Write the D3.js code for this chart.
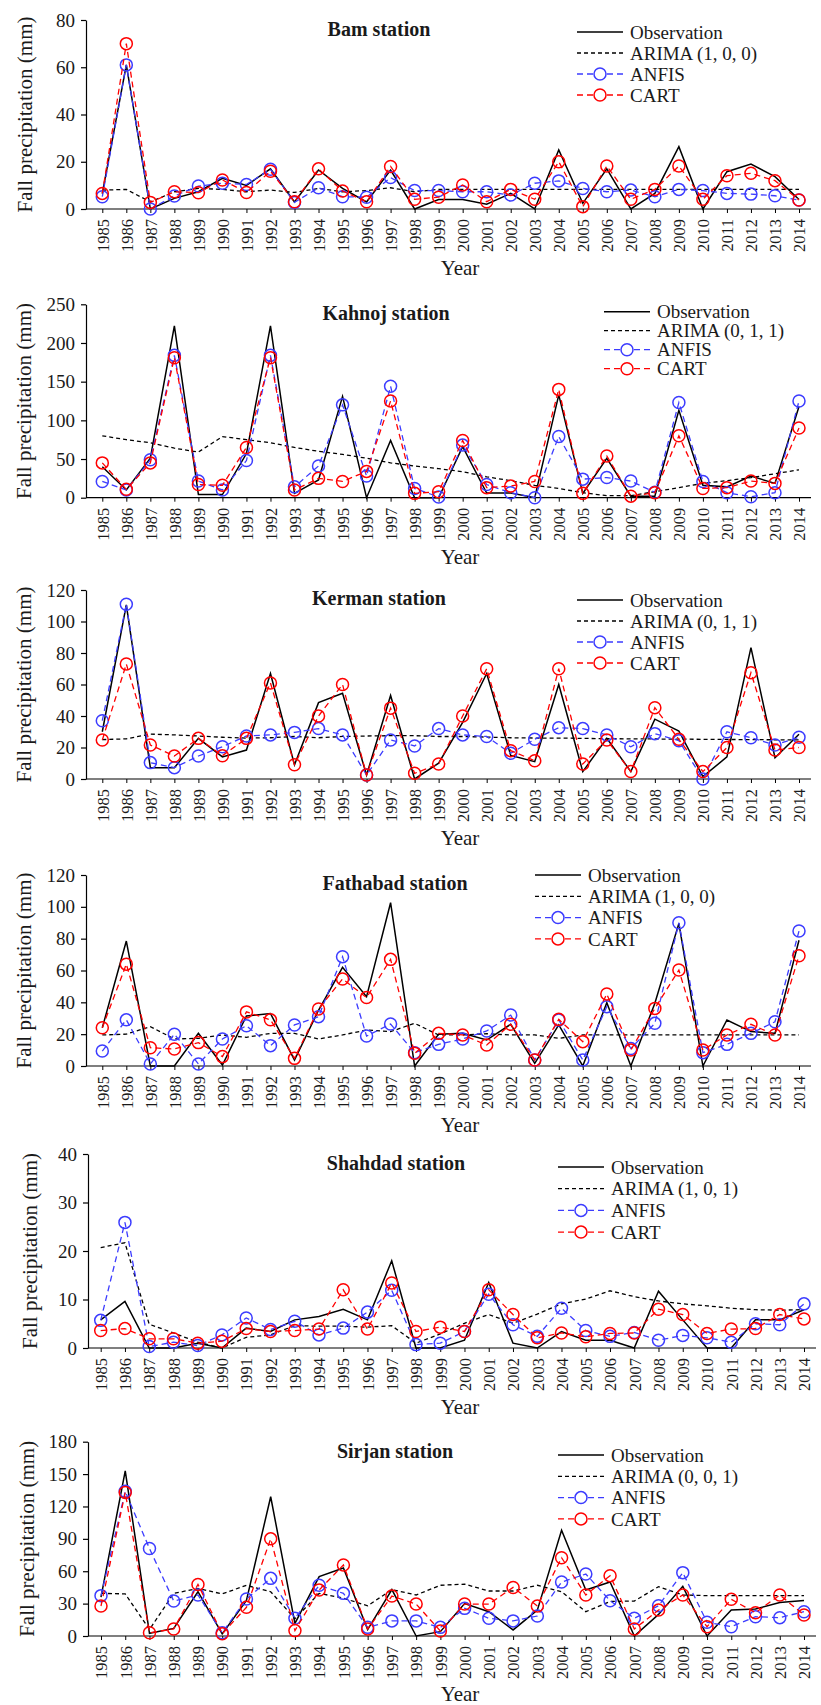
<!DOCTYPE html>
<html>
<head>
<meta charset="utf-8">
<title>Fall precipitation, six stations</title>
<script src="https://d3js.org/d3.v7.min.js"></script>
<style>
  body { margin: 0; background: #fff; }
  svg text { font-family: "Liberation Serif", "Times New Roman", serif; fill: #1a1a1a; }
</style>
</head>
<body>
<svg id="chart" width="821" height="1705"></svg>
<script>
// years on the x axis
const years = d3.range(1985, 2015);

// Bam
const bamObs   = [6.5,61,0,4.5,7.3,13,10,17,3,16.5,8.7,3,16.5,0,4,4,2,6.6,0,25,2.4,17,0,6.6,26.4,0,15.8,19,13.7,4];
const bamArima = [8,8.3,3,7.3,8.7,8.3,7.3,8,7,8.7,7.3,7.8,9,7.3,8.3,8.3,8.3,8.3,8.3,8.3,8.3,8.3,8.3,8.3,8.3,8.3,8.3,8.3,8.3,8.3];
const bamAnfis = [5.2,61,0,5.5,9.7,10.9,10.4,16.8,2.8,9,5.2,5,13.3,7.8,7.8,7.3,7.3,5.9,10.9,11.9,8.7,7.3,8,5.2,8.3,7.8,6.6,6.3,5.6,3.8];
const bamCart  = [6.6,70,2.8,7.3,6.9,12.3,7,16,3.1,17,7.6,3.1,18,4.1,5,10.2,3.1,8.3,4.1,20,1,18.2,4.1,8.3,18.2,4.1,14.1,15.1,12,3.8];

// Kahnoj
const kahObs   = [40,10,51,222,4,4,57,222,5.6,23,131,0,74,0,0,66,6,6,0,133,5.6,51,2,2,113,16,14,28,18.5,118];
const kahArima = [80,75,71,64,59,79,75,71,65,60,56,51,45,41,37.5,33.6,27,22,16,12,6.5,2.6,2.6,7.8,13,18.5,22,26,31,36];
const kahAnfis = [21,10,49,184,21.5,10,48,184,14,41,120,28,144,12,1,68,17,6.5,0,79,24,26,21.5,7,123,21,6.5,1.3,6.5,125];
const kahCart  = [45,10.8,45,181,17,16,65,181,10,25,21,34,125,5.6,7.8,74,13,15,21,140,5.6,54,2,6.5,80,12,13,21.5,18.5,90];

// Kerman
const kerObs   = [30,110.5,7.2,7.2,25.8,14,18.4,67,9,48.5,54.4,2.5,53,0,10,36,67,15,11,60,4.7,25.8,4.7,38,30.5,1.5,14,83.4,13.5,28.4];
const kerArima = [25,25.5,28.5,28,27.3,26.5,26,26.2,27,26.2,27,27.3,27.5,27.5,27,27,26.6,26.2,26,26,25.8,25.6,25.5,25.4,25.3,25.2,25.1,25,24.9,24.8];
const kerAnfis = [37,111,10.4,7.2,14.6,20.5,27.3,28,29.6,32,28,2.5,24.8,21,32,28,27,16.3,25.2,32.6,32,28,20.5,28.8,24.3,0,30,26.2,21.6,26.5];
const kerCart  = [24.8,73,21.6,14.6,25.8,14.8,25.8,61,9,40,60,2.5,45,3.6,9.5,40,70,18,11.6,70,9.5,24.8,4.7,45.3,25.2,4.7,20,67.5,18.4,20];

// Fathabad
const fatObs   = [24,78.5,0,0,20.5,0.6,31.4,33,3.8,35,62,43.6,102.6,0,20,20.5,16.3,26.2,1.7,25.8,0,39.8,0,39.4,89.6,0,28.9,21.6,20.5,79];
const fatArima = [19.5,20,24.7,17,17.4,19.5,18,20.5,20.5,17,19.5,22.6,21.6,26.8,19.5,19.5,20.3,19.5,19.5,17.4,19.5,19.5,19.5,19.5,19.5,19.5,19.5,19.5,19.5,19.5];
const fatAnfis = [9.4,29,1.3,20,1.3,17,25.3,12.8,25.8,31,68.7,18.8,26.4,8.4,13.6,17,22,32,3.8,28.9,3.8,37.3,11,26.8,90,8.4,13.6,20.5,27.8,84.8];
const fatCart  = [24,64,11.5,10.7,14.7,5.9,34,29,4.8,35.8,54.7,43,67,8,20.5,19.5,13.2,26.2,3.8,29.3,15.3,45.2,10,36.2,60.3,10,19.5,26.2,19.5,69.3];

// Shahdad
const shaObs   = [5.8,9.6,0,0,1,0,4.1,3.4,5.8,6.5,8,5.8,18,0,0,1.6,13.5,1,0,3.4,1.6,1.6,0,11.7,5.8,0,0,5.8,5.8,7.9];
const shaArima = [20.7,21.7,4.9,3.1,1.2,0,2.2,2.7,4.6,4.5,4.5,4.3,4.6,1,2.9,5.1,6.9,5.1,7,9.1,10.1,11.8,10.6,9.7,9.1,8.7,8.2,7.9,7.8,7.9];
const shaAnfis = [5.7,25.9,0.3,1.2,0.5,2.7,6.2,3.8,5.5,2.7,4.1,7.4,11.9,0.7,1,3.4,11.1,4.8,2.4,8.2,3.6,2.4,3.2,1.6,2.6,2.1,1.2,5,4.8,9.1];
const shaCart  = [3.6,4,1.9,1.9,1,1.4,4,3.4,3.6,3.9,12,3.9,13.4,3.4,4.3,3.4,12,6.9,2.1,3.1,2.3,3,3.1,8,6.9,3,3.9,4,6.9,6];

// Sirjan
const sirObs   = [36,153,2.5,7,41,2,33,129,11.7,55,63,6,43,0,4,30,22.5,5.6,24,98,42.6,50,0,20,46,0,24,25,31,33];
const sirArima = [39.5,39,6,39.5,44,39,47,41,16,39.5,35,28,43,38,47,48,41.7,41.7,47,41,22.5,32,32.4,45.7,38,37.4,37.4,37.4,37.4,37.4];
const sirAnfis = [37.4,134,81,32.4,38,3,34.3,53.4,16.4,47,39.5,8,14,14,8,25.6,16.4,14,18.5,50,57.4,32.7,16.4,28,58.7,12.7,8.6,17.9,17,22.5];
const sirCart  = [27.8,133,3,6.5,47.8,2,26.6,90,5,42.6,65.8,6.5,37,29.6,4.6,29.6,29.6,45,27.8,72.5,38,55.9,6.5,24,38,8.6,34,21.6,38,19.5];

// panel data (titles, arima labels, axis ranges)
const stationNames = ["Bam station", "Kahnoj station", "Kerman station", "Fathabad station", "Shahdad station", "Sirjan station"];
const arimaLabels  = ["ARIMA (1, 0, 0)", "ARIMA (0, 1, 1)", "ARIMA (0, 1, 1)", "ARIMA (1, 0, 0)", "ARIMA (1, 0, 1)", "ARIMA (0, 0, 1)"];
const yMaxes       = [80, 250, 120, 120, 40, 180];
const yTickSteps   = [20, 50, 20, 20, 10, 30];
const seriesData = [
  [bamObs, bamArima, bamAnfis, bamCart],
  [kahObs, kahArima, kahAnfis, kahCart],
  [kerObs, kerArima, kerAnfis, kerCart],
  [fatObs, fatArima, fatAnfis, fatCart],
  [shaObs, shaArima, shaAnfis, shaCart],
  [sirObs, sirArima, sirAnfis, sirCart]
];

// page layout of each panel
const layout = [
  { axisX: 86, x0: 102.3, x1: 799, axisEnd: 811, top: 20,    bottom: 209,  titleX: 379, titleY: 29,   legX: 577, legY: 32,   legGap: 21,  labX: 25 },
  { axisX: 86, x0: 102.3, x1: 799, axisEnd: 811, top: 304.3, bottom: 497.7, titleX: 386, titleY: 313, legX: 604, legY: 311.7, legGap: 19, labX: 24 },
  { axisX: 86, x0: 102.3, x1: 799, axisEnd: 811, top: 590,   bottom: 779,  titleX: 379, titleY: 598,  legX: 577, legY: 600,  legGap: 21,  labX: 24 },
  { axisX: 86, x0: 102.3, x1: 799, axisEnd: 811, top: 875,   bottom: 1066, titleX: 395, titleY: 883,  legX: 535, legY: 875,  legGap: 21.3, labX: 24 },
  { axisX: 88, x0: 100.7, x1: 804, axisEnd: 816, top: 1154,  bottom: 1348, titleX: 396, titleY: 1163, legX: 558, legY: 1167, legGap: 21.7, labX: 30 },
  { axisX: 88, x0: 101,   x1: 804, axisEnd: 816, top: 1441.7, bottom: 1636, titleX: 395, titleY: 1451, legX: 558, legY: 1455, legGap: 21.3, labX: 27 }
];

const styles = [
  { name: "Observation", color: "#000", dash: null,  width: 1.5, marker: false },
  { name: null,          color: "#000", dash: "4,3", width: 1.3, marker: false },
  { name: "ANFIS",       color: "#3c3cff", dash: "6,4", width: 1.3, marker: true },
  { name: "CART",        color: "#ff0000", dash: "6,4", width: 1.3, marker: true }
];

const svg = d3.select("#chart");

stationNames.forEach(function(station, p) {
  const L = layout[p];
  const g = svg.append("g").attr("class", "panel");
  const x = d3.scalePoint().domain(years).range([L.x0, L.x1]);
  const y = d3.scaleLinear().domain([0, yMaxes[p]]).range([L.bottom, L.top]);

  // y axis
  const yAxis = g.append("g")
    .attr("transform", "translate(" + L.axisX + ",0)")
    .call(d3.axisLeft(y)
      .tickValues(d3.range(0, yMaxes[p] + 1, yTickSteps[p]))
      .tickSize(5).tickSizeOuter(0).tickPadding(6));
  yAxis.selectAll("text").style("font-size", "19px").attr("fill", "#1a1a1a");
  yAxis.selectAll("line, path").attr("stroke", "#000").attr("stroke-width", 1.2);

  // x axis
  const xAxis = g.append("g")
    .attr("transform", "translate(0," + L.bottom + ")")
    .call(d3.axisBottom(x).tickSize(4));
  xAxis.select(".domain").remove();
  xAxis.selectAll("line").attr("stroke", "#000");
  xAxis.selectAll("text")
    .attr("transform", "rotate(-90)")
    .attr("x", -10).attr("y", 0).attr("dy", "0.35em")
    .style("text-anchor", "end")
    .style("font-size", "16.5px")
    .attr("fill", "#1a1a1a");
  g.append("line")
    .attr("x1", L.axisX).attr("x2", L.axisEnd)
    .attr("y1", L.bottom).attr("y2", L.bottom)
    .attr("stroke", "#000").attr("stroke-width", 1.2);

  // axis titles
  g.append("text")
    .attr("transform", "translate(" + L.labX + "," + ((L.top + L.bottom) / 2) + ") rotate(-90)")
    .attr("text-anchor", "middle").attr("dy", "0.35em")
    .style("font-size", "21px")
    .text("Fall precipitation (mm)");
  g.append("text")
    .attr("x", 460).attr("y", Math.min(L.bottom + 66, 1701))
    .attr("text-anchor", "middle")
    .style("font-size", "21px")
    .text("Year");
  g.append("text")
    .attr("x", L.titleX).attr("y", L.titleY).attr("dy", "0.35em")
    .attr("text-anchor", "middle")
    .style("font-size", "20px").style("font-weight", "bold")
    .text(station);

  // series
  const line = d3.line().x((d, i) => x(years[i])).y(d => y(d));
  seriesData[p].forEach(function(vals, s) {
    const st = styles[s];
    g.append("path")
      .attr("d", line(vals))
      .attr("fill", "none")
      .attr("stroke", st.color)
      .attr("stroke-width", st.width)
      .attr("stroke-dasharray", st.dash);
    if (st.marker) {
      g.selectAll(null)
        .data(vals)
        .enter().append("circle")
          .attr("cx", (d, i) => x(years[i]))
          .attr("cy", d => y(d))
          .attr("r", 6)
          .attr("fill", "none")
          .attr("stroke", st.color)
          .attr("stroke-width", 1.5);
    }
  });

  // legend
  styles.forEach(function(st, s) {
    const ly = L.legY + s * L.legGap;
    const lg = g.append("g");
    lg.append("line")
      .attr("x1", L.legX).attr("x2", L.legX + 46)
      .attr("y1", ly).attr("y2", ly)
      .attr("stroke", st.color).attr("stroke-width", st.width)
      .attr("stroke-dasharray", st.dash);
    if (st.marker) {
      lg.append("circle")
        .attr("cx", L.legX + 23).attr("cy", ly).attr("r", 6)
        .attr("fill", "#fff").attr("stroke", st.color).attr("stroke-width", 1.5);
    }
    lg.append("text")
      .attr("x", L.legX + 53).attr("y", ly).attr("dy", "0.35em")
      .style("font-size", "19px")
      .text(st.name || arimaLabels[p]);
  });
});
</script>
</body>
</html>
